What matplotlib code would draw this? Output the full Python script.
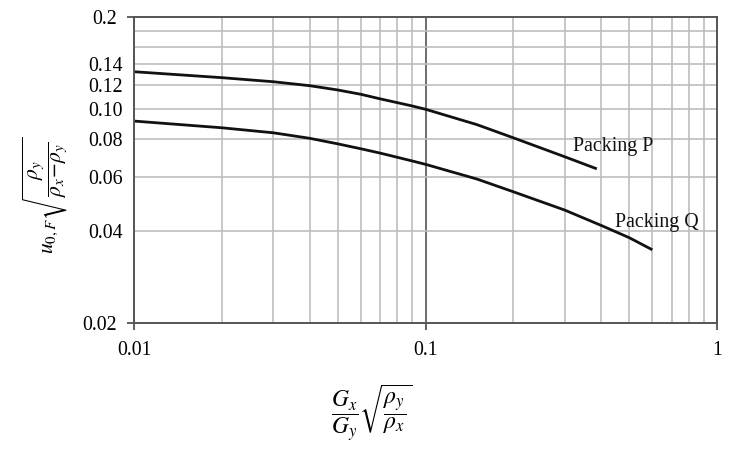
import matplotlib
matplotlib.use("Agg")
import matplotlib.pyplot as plt
from matplotlib.ticker import FixedLocator, FixedFormatter, NullFormatter

plt.rcParams['font.family'] = ['Liberation Serif', 'DejaVu Serif']
plt.rcParams['mathtext.fontset'] = 'stix'

# Data
x_p = [0.01, 0.02, 0.03, 0.04, 0.05, 0.06, 0.07, 0.08, 0.09, 0.1, 0.15, 0.2, 0.3, 0.387]
y_p = [0.1325, 0.1267, 0.1229, 0.1193, 0.1155, 0.1118, 0.1080, 0.1050, 0.1024, 0.0999,
       0.0890, 0.0806, 0.0699, 0.0638]
x_q = [0.01, 0.02, 0.03, 0.04, 0.05, 0.06, 0.07, 0.08, 0.09, 0.1, 0.15, 0.2, 0.3, 0.4, 0.5, 0.6]
y_q = [0.0914, 0.0869, 0.0837, 0.0803, 0.0770, 0.0742, 0.0718, 0.0696, 0.0677, 0.0660,
       0.0591, 0.0537, 0.0468, 0.0417, 0.0380, 0.0347]

x_major = [0.01, 0.1, 1]
x_major_labels = ['0.01', '0.1', '1']
x_minor = [0.02, 0.03, 0.04, 0.05, 0.06, 0.07, 0.08, 0.09,
           0.2, 0.3, 0.4, 0.5, 0.6, 0.7, 0.8, 0.9]
y_major = [0.02, 0.2]
y_major_labels = ['0.02', '0.2']
y_minor = [0.04, 0.06, 0.08, 0.10, 0.12, 0.14, 0.16, 0.18]
y_minor_labels = ['0.04', '0.06', '0.08', '0.10', '0.12', '0.14', '', '']

label_p = ('Packing P', 0.32, 0.0752)
label_q = ('Packing Q', 0.447, 0.0427)

fig = plt.figure(figsize=(7.34, 4.76), dpi=100)
ax = fig.add_axes([134/734, 1-323/476, (717-134)/734, (323-17)/476])
ax.set_xscale('log')
ax.set_yscale('log')
ax.set_xlim(0.01, 1)
ax.set_ylim(0.02, 0.2)

ax.xaxis.set_major_locator(FixedLocator(x_major))
ax.xaxis.set_major_formatter(FixedFormatter(x_major_labels))
ax.xaxis.set_minor_locator(FixedLocator(x_minor))
ax.xaxis.set_minor_formatter(NullFormatter())
ax.yaxis.set_major_locator(FixedLocator(y_major))
ax.yaxis.set_major_formatter(FixedFormatter(y_major_labels))
ax.yaxis.set_minor_locator(FixedLocator(y_minor))
ax.yaxis.set_minor_formatter(FixedFormatter(y_minor_labels))

ax.tick_params(which='major', direction='out', length=5, width=1.2, color='#444444',
               labelsize=14.3, pad=7)
ax.tick_params(which='minor', length=0, labelsize=14.3, pad=8)
ax.tick_params(axis='x', which='major', pad=8)

ax.grid(True, which='minor', axis='both', color='#bdbdbd', linewidth=1.2)
ax.grid(True, which='major', axis='x', color='#555555', linewidth=1.2)
ax.set_axisbelow(True)

for s in ax.spines.values():
    s.set_color('#555555')
    s.set_linewidth(1.4)

ax.plot(x_p, y_p, color='#111111', linewidth=2.0, solid_capstyle='butt')
ax.plot(x_q, y_q, color='#111111', linewidth=2.0, solid_capstyle='butt')

ax.text(label_p[1], label_p[2], label_p[0], fontsize=14.3, va='center', ha='left', color='#111111')
ax.text(label_q[1], label_q[2], label_q[0], fontsize=14.3, va='center', ha='left', color='#111111')

fig.text(372/734, 1-413/476, r'$\dfrac{G_x}{G_y}\sqrt{\dfrac{\rho_y}{\rho_x}}$',
         fontsize=17, ha='center', va='center')
fig.text(45/734, 1-195/476, r'$u_{0,F}\sqrt{\dfrac{\rho_y}{\rho_x\!-\!\rho_y}}$',
         fontsize=15.5, ha='center', va='center', rotation=90)

fig.savefig('out.png', dpi=100)
